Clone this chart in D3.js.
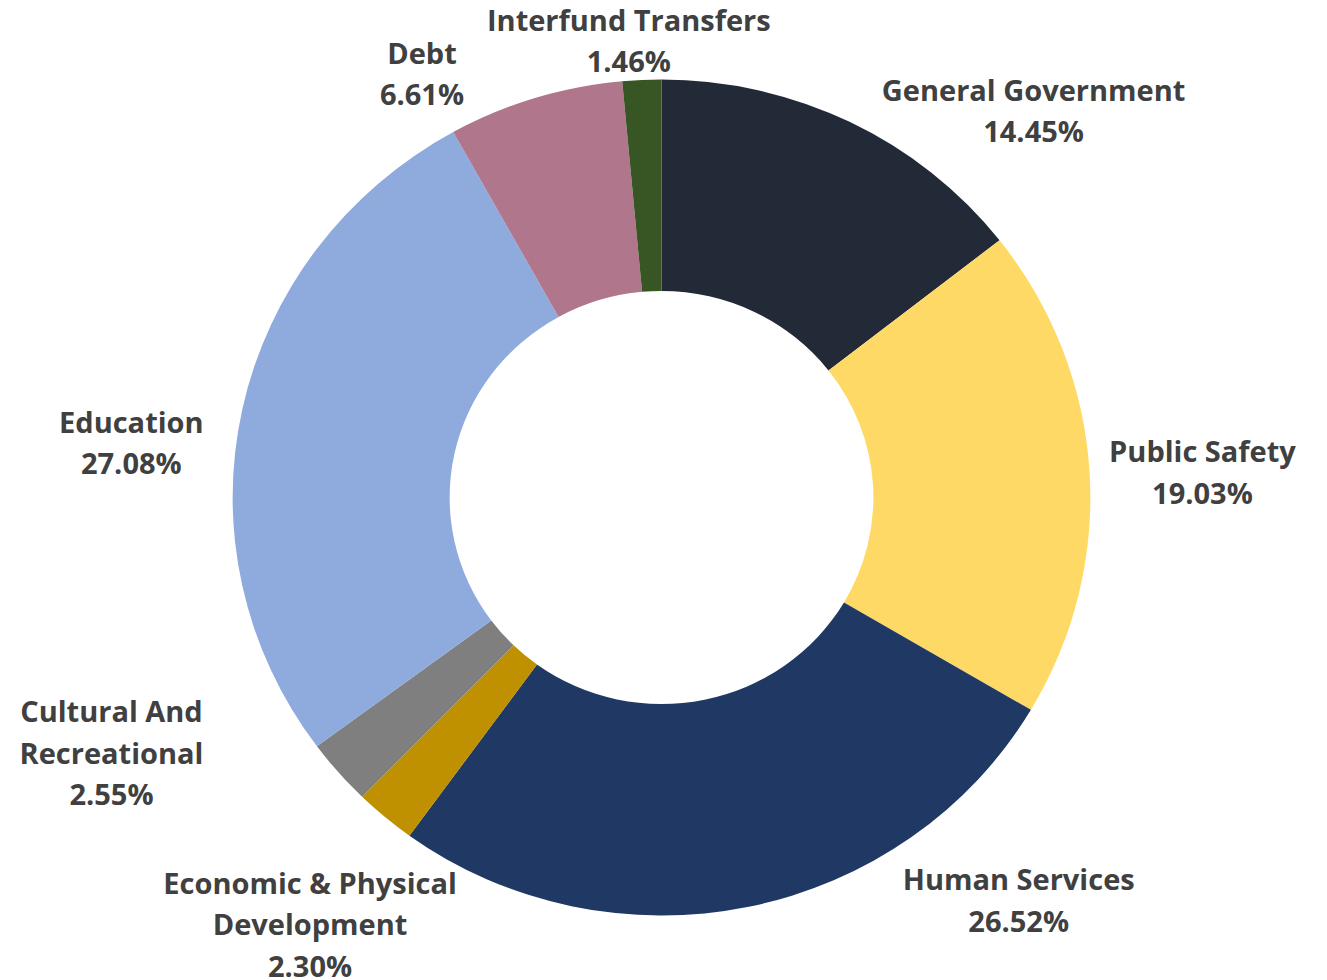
<!DOCTYPE html>
<html>
<head>
<meta charset="utf-8">
<script src="https://cdn.jsdelivr.net/npm/d3@7"></script>
<style>
  html, body { margin: 0; padding: 0; background: #ffffff; }
  svg { display: block; }
</style>
</head>
<body>
<svg id="chart" width="1327" height="980"></svg>
<script>
// Budget categories, clockwise from 12 o'clock
const categories = [
  "General Government",
  "Public Safety",
  "Human Services",
  "Economic & Physical Development",
  "Cultural And Recreational",
  "Education",
  "Debt",
  "Interfund Transfers"
];
// Share of the total, in percent
const shares = [14.45, 19.03, 26.52, 2.30, 2.55, 27.08, 6.61, 1.46];
// Label line breaks
const labelLines = [
  ["General Government"],
  ["Public Safety"],
  ["Human Services"],
  ["Economic & Physical", "Development"],
  ["Cultural And", "Recreational"],
  ["Education"],
  ["Debt"],
  ["Interfund Transfers"]
];
const colors = ["#232a37", "#ffd966", "#203864", "#bf9000", "#7f7f7f", "#8faadc", "#b0768c", "#375623"];

// Label offsets from the outer edge at each slice's mid-angle
const labelNudge = [
  [184, -11], [113, 2], [270, -6], [-75, 108],
  [-227, -19], [-111, 34], [-113, -24], [-13, -39]
];

const svg = d3.select("#chart");
const cx = 661.5, cy = 497.5;
const rOuter = 418, rInner = 206.5, stretchX = 1.026;
const fontSize = 29, lineH = 41.5;

const pie = d3.pie().sort(null).value(d => d);
const arcs = pie(shares);
const arc = d3.arc().innerRadius(rInner).outerRadius(rOuter);

svg.append("g")
  .attr("transform", `translate(${cx},${cy}) scale(${stretchX},1)`)
  .selectAll("path")
  .data(arcs)
  .join("path")
  .attr("d", arc)
  .attr("fill", (d, i) => colors[i]);

const fmt = d3.format(".2f");
const labels = svg.append("g")
  .attr("font-family", "'Open Sans', 'Noto Sans', sans-serif")
  .attr("font-weight", 700)
  .attr("font-size", fontSize)
  .attr("fill", "#404040")
  .attr("text-anchor", "middle");

arcs.forEach((d, i) => {
  const mid = (d.startAngle + d.endAngle) / 2;
  const ex = cx + rOuter * stretchX * Math.sin(mid);
  const ey = cy - rOuter * Math.cos(mid);
  const lx = ex + labelNudge[i][0];
  const ly = ey + labelNudge[i][1];
  const lines = labelLines[i].concat([fmt(d.data) + "%"]);
  const top = ly - (lines.length - 1) * lineH / 2;
  const t = labels.append("text");
  lines.forEach((s, j) => {
    t.append("tspan")
      .attr("x", lx)
      .attr("y", top + j * lineH + fontSize * 0.36)
      .text(s);
  });
});
</script>
</body>
</html>
